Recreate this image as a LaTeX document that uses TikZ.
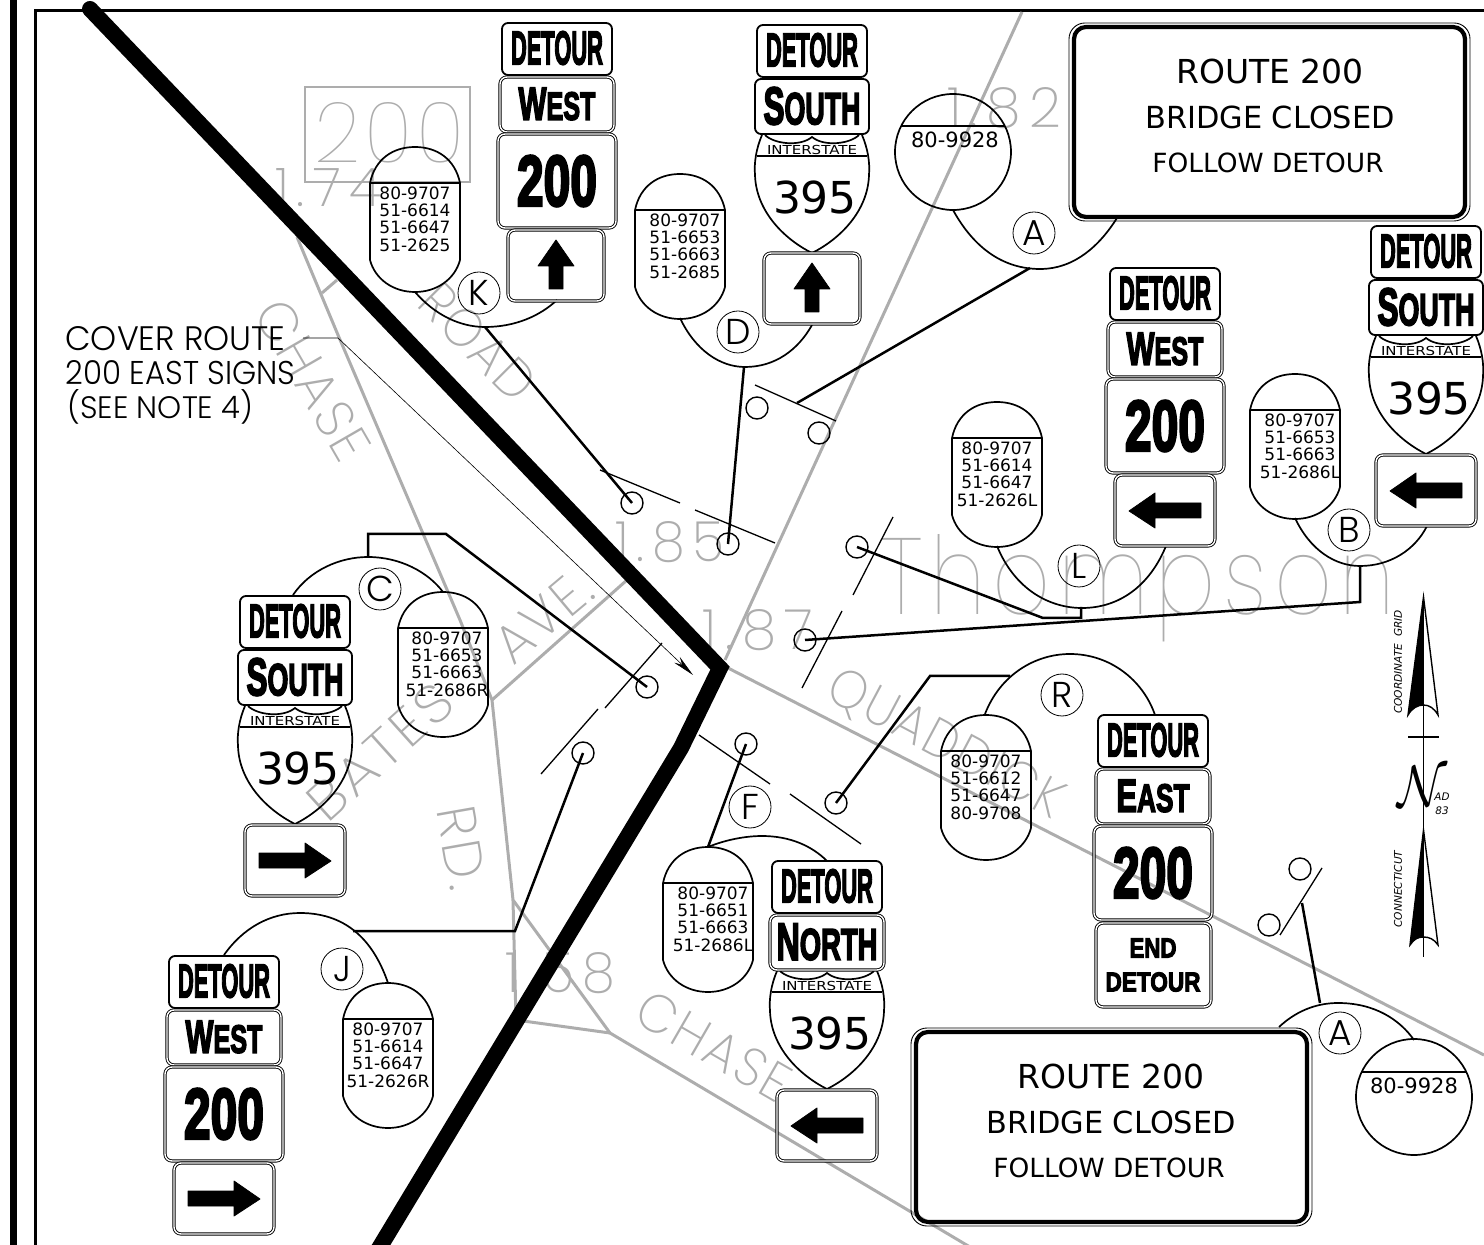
\documentclass[tikz,border=0pt]{standalone}
\usepackage{fontspec}
\usepackage{graphicx}
\usetikzlibrary{arrows.meta}
\setmainfont{DejaVu Sans}
\newfontfamily\signfont[BoldFeatures={FakeBold=4}]{Liberation Sans}
\newfontfamily\gothfont{Poppins Light}
\newfontfamily\cadfont{Poppins ExtraLight}
\newfontfamily\hairfont{Poppins Thin}
\newcommand{\fitbox}[3]{\resizebox{#1}{#2}{#3}}
\definecolor{roadgray}{gray}{0.68}
\tikzset{
  mainline/.style={line width=.85pt,black},
  postline/.style={line width=.65pt,black},
  leader/.style={line width=1.25pt,black},
  roadline/.style={line width=1.5pt,roadgray},
  roadtext/.style={text=roadgray,inner sep=0pt,font=\cadfont},
  pole/.style={circle,draw,line width=.7pt,minimum size=11pt,inner sep=0pt},
  tagc/.style={circle,draw,line width=.4pt,minimum size=21pt,inner sep=0pt,font=\gothfont\fontsize{18}{18}\selectfont},
  numtext/.style={align=center,inner sep=0pt,font=\fontsize{8.5}{8.7}\selectfont},
  plainpanel/.style={draw,line width=.9pt,rounded corners=3pt},
  dblpanel/.style={draw,double,double distance=.7pt,line width=.45pt,rounded corners=3.5pt},
  signtxt/.style={inner sep=0pt,font=\signfont\bfseries},
  signarrow/.style={fill=black,draw=black,line width=.4pt,line join=round},
  bigtext/.style={inner sep=0pt}
}
% bubble with four part numbers
\newcommand{\capsule}[5]{
  \begin{scope}[shift={(#2,#3)}]
    \draw[mainline] (-45,36) .. controls (-40,12) and (-22,0) .. (0,0) .. controls (22,0) and (40,12) .. (45,36)
      -- (45,113) .. controls (40,132) and (22,145) .. (0,145) .. controls (-22,145) and (-40,132) .. (-45,113) -- cycle;
    \draw[mainline] (-45,36) -- (45,36);
    \node[numtext] (#1) at (#4,72) {#5};
  \end{scope}}
% detour plate and direction plate
\newcommand{\signhead}[5]{
  \begin{scope}[shift={(#2,#3)}]
    \draw[plainpanel] (-55,0) rectangle (55,52);
    \node[signtxt] (#1det) at (0,25) {\fitbox{46pt}{16.5pt}{DETOUR}};
    \draw[#4] (-57,54) rectangle (57,109);
    \node[signtxt] (#1dir) at (0,81) {#5};
  \end{scope}}
\newcommand{\routeplate}[2]{
  \begin{scope}[shift={(#1,#2)}]
    \draw[dblpanel] (-59,111) rectangle (59,205);
    \node[signtxt] at (0,158) {\fitbox{40pt}{25pt}{200}};
  \end{scope}}
\newcommand{\shield}[2]{
  \begin{scope}[shift={(#1,#2)}]
    \draw[mainline] (-50,110) .. controls (-56,124) and (-58,138) .. (-57,150) .. controls (-56,186) and (-28,214) .. (0,228)
      .. controls (28,214) and (56,186) .. (57,150) .. controls (58,138) and (56,124) .. (50,110);
    \draw[mainline] (-47,110) .. controls (-38,119) and (-12,122) .. (0,112) .. controls (12,122) and (38,119) .. (47,110);
    \draw[mainline] (-55,131) -- (55,131);
    \node[inner sep=0pt] at (0,125) {\fitbox{45pt}{4.6pt}{INTERSTATE}};
    \node[inner sep=0pt,font=\fontsize{22}{22}\selectfont] at (3,172) {395};
  \end{scope}}
% arrow plates, centre x and top y
\newcommand{\arrowup}[2]{
  \begin{scope}[shift={(#1,#2)}]
    \draw[dblpanel] (-48,0) rectangle (48,71);
    \draw[signarrow] (0,10) -- (18,36) -- (7,36) -- (7,59) -- (-7,59) -- (-7,36) -- (-18,36) -- cycle;
  \end{scope}}
\newcommand{\arrowside}[3]{
  \begin{scope}[shift={(#1,#2)}]
    \draw[dblpanel] (-50,0) rectangle (50,71);
    \draw[signarrow,xscale=#3] (-36,36) -- (-10,18) -- (-10,28) -- (36,28) -- (36,43) -- (-10,43) -- (-10,53) -- cycle;
  \end{scope}}
\newcommand{\roadsign}[2]{
  \draw[line width=.45pt] (#1-5,#2-4) [rounded corners=8pt] rectangle (#1+396,#2+194);
  \draw[line width=2.1pt,rounded corners=6pt] (#1,#2) rectangle (#1+391,#2+190);}
\begin{document}
\begin{tikzpicture}[x=.5pt,y=-.5pt]
  \clip (0,0) rectangle (1484,1245);
  % border
  \fill[black] (10,0) rectangle (17,1245);
  \draw[line width=1.5pt] (35,1245) -- (35,11) -- (1484,11);

  % roads, gray
  \draw[roadline] (297,237) -- (338,335) -- (460,620) -- (492,700) -- (513,900) -- (610,1033) -- (975,1250);
  \draw[roadline] (513,900) -- (516,1020) -- (610,1033);
  \draw[roadline] (322,293) -- (337,280);
  \draw[roadline] (492,700) -- (627,580);
  \draw[roadline] (725,660) -- (1022,12);
  \draw[roadline] (728,668) -- (1484,1055);
  \draw[line width=.9pt,roadgray] (305,87) rectangle (470,182);
  \node[roadtext,font=\hairfont,anchor=base] (rtno) at (389,163) {\fitbox{75pt}{30pt}{2\hspace{.05em}0\hspace{.05em}0}};
  \node[roadtext,anchor=base] (mpa) at (328,207) {\fitbox{53pt}{19pt}{1\hspace{.15em}.\hspace{.15em}7\hspace{.15em}4}};
  \node[roadtext,anchor=base] (mpb) at (1004,128) {\fitbox{57pt}{20pt}{1\hspace{.15em}.\hspace{.15em}8\hspace{.15em}2}};
  \node[roadtext,anchor=base] (mpc) at (670,562) {\fitbox{55pt}{20pt}{1\hspace{.15em}.\hspace{.15em}8\hspace{.15em}5}};
  \node[roadtext,anchor=base] (mpd) at (758,650) {\fitbox{55pt}{20pt}{1\hspace{.15em}.\hspace{.15em}8\hspace{.15em}7}};
  \node[roadtext,anchor=base] (mpe) at (560,992) {\fitbox{55pt}{20pt}{1\hspace{.15em}.\hspace{.15em}5\hspace{.15em}8}};
  \node[roadtext,font=\hairfont,anchor=base] (town) at (1138,615) {\fitbox{257pt}{40pt}{T\hspace{.08em}h\hspace{.08em}o\hspace{.08em}m\hspace{.08em}p\hspace{.08em}s\hspace{.08em}o\hspace{.08em}n}};
  \node[roadtext,rotate=-60] (chasea) at (313,380) {\fitbox{88pt}{19pt}{C\hspace{.05em}H\hspace{.05em}A\hspace{.05em}S\hspace{.05em}E}};
  \node[roadtext,rotate=-45] (roada) at (478,342) {\fitbox{70pt}{19pt}{R\hspace{.05em}O\hspace{.05em}A\hspace{.05em}D}};
  \node[roadtext,rotate=40] (avea) at (543,617) {\fitbox{55pt}{19pt}{A\hspace{.05em}V\hspace{.05em}E\hspace{.05em}.}};
  \node[roadtext,rotate=42] (batesa) at (380,752) {\fitbox{88pt}{19pt}{B\hspace{.05em}A\hspace{.05em}T\hspace{.05em}E\hspace{.05em}S}};
  \node[roadtext,rotate=-80] (rda) at (462,848) {\fitbox{42pt}{19pt}{R\hspace{.05em}D\hspace{.05em}.}};
  \node[roadtext,rotate=-28] (quad) at (945,745) {\fitbox{130pt}{19pt}{Q\hspace{.05em}U\hspace{.05em}A\hspace{.05em}D\hspace{.05em}D\hspace{.05em}I\hspace{.05em}C\hspace{.05em}K}};
  \node[roadtext,rotate=-30] (chaseb) at (714,1046) {\fitbox{84pt}{19pt}{C\hspace{.05em}H\hspace{.05em}A\hspace{.05em}S\hspace{.05em}E}};

  % closed road
  \draw[line width=8pt,line cap=round,line join=miter] (90,9) -- (720,668) -- (681,748) -- (375,1255);

  % posts
  \draw[postline] (600,470) -- (680,503);
  \draw[postline] (695,510) -- (775,543);
  \draw[postline] (755,385) -- (836,421);
  \draw[postline] (893,517) -- (853,595);
  \draw[postline] (842,611) -- (802,688);
  \draw[postline] (662,643) -- (605,708);
  \draw[postline] (598,709) -- (541,774);
  \draw[postline] (699,735) -- (770,784);
  \draw[postline] (790,794) -- (861,844);
  \draw[postline] (1322,868) -- (1280,935);
  \node[pole] (polek) at (632,503) {};
  \node[pole] (poled) at (728,544) {};
  \node[pole] (poleaa) at (757,408) {};
  \node[pole] (poleab) at (819,433) {};
  \node[pole] (polel) at (857,547) {};
  \node[pole] (poleb) at (805,640) {};
  \node[pole] (polec) at (647,687) {};
  \node[pole] (polej) at (583,753) {};
  \node[pole] (polef) at (746,744) {};
  \node[pole] (poler) at (836,803) {};
  \node[pole] (polec1) at (1300,869) {};
  \node[pole] (polec2) at (1269,925) {};

  % tags
  \node[tagc] (taga) at (1034,233) {A};
  \node[tagc] (tagk) at (479,293) {K};
  \node[tagc] (tagd) at (738,332) {D};
  \node[tagc] (tagl) at (1079,566) {L};
  \node[tagc] (tagb) at (1349,530) {B};
  \node[tagc] (tagcc) at (380,589) {C};
  \node[tagc] (tagr) at (1062,695) {R};
  \node[tagc] (tagf) at (750,807) {F};
  \node[tagc] (tagj) at (342,969) {J};
  \node[tagc] (tagaa) at (1340,1033) {A};

  % arcs from bubble to sign
  \draw[mainline] (953,210) .. controls (975,250) and (1005,269) .. (1040,269) .. controls (1075,269) and (1100,245) .. (1117,218);
  \draw[mainline] (415,292) .. controls (435,315) and (460,327) .. (485,327) .. controls (515,327) and (540,316) .. (557,300);
  \draw[mainline] (680,318) .. controls (695,350) and (720,367) .. (745,367) .. controls (775,367) and (798,350) .. (812,325);
  \draw[mainline] (997,546) .. controls (1015,590) and (1050,608) .. (1082,608) .. controls (1120,608) and (1150,585) .. (1166,546);
  \draw[mainline] (1295,518) .. controls (1310,550) and (1335,566) .. (1360,566) .. controls (1390,566) and (1415,550) .. (1427,526);
  \draw[mainline] (293,595) .. controls (310,570) and (340,557) .. (368,557) .. controls (400,557) and (428,572) .. (443,592);
  \draw[mainline] (985,714) .. controls (1000,675) and (1035,654) .. (1070,654) .. controls (1110,654) and (1143,680) .. (1155,715);
  \draw[mainline] (708,847) .. controls (725,840) and (745,836) .. (762,836) .. controls (790,836) and (812,846) .. (827,861);
  \draw[mainline] (224,955) .. controls (243,928) and (270,913) .. (300,913) .. controls (350,913) and (375,945) .. (388,983);
  \draw[mainline] (1279,1027) .. controls (1295,1012) and (1315,1003) .. (1338,1003) .. controls (1375,1003) and (1400,1020) .. (1414,1040);

  % leaders
  \coordinate (ka) at (485,327);
  \coordinate (da) at (744,367);
  \coordinate (aa) at (1030,268);
  \coordinate (ab) at (797,403);
  \coordinate (la) at (1081,607);
  \coordinate (ba) at (1360,566);
  \coordinate (ca) at (368,557);
  \coordinate (ra) at (1010,676);
  \coordinate (fa) at (708,847);
  \coordinate (ja) at (353,931);
  \coordinate (ac) at (1320,1003);
  \coordinate (ad) at (1302,903);
  \draw[leader] (ka) -- (polek.center);
  \draw[leader] (da) -- (poled.center);
  \draw[leader] (aa) -- (ab);
  \draw[leader] (la) -- (1081,618) -- (1043,618) -- (polel.center);
  \draw[leader] (ba) -- (1360,602) -- (poleb.center);
  \draw[leader] (ca) -- (368,534) -- (446,534) -- (polec.center);
  \draw[leader] (ra) -- (930,676) -- (poler.center);
  \draw[leader] (fa) -- (polef.center);
  \draw[leader] (ja) -- (515,931) -- (polej.center);
  \draw[leader] (ac) -- (ad);

  % part number bubbles
  \capsule{capk}{415}{147}{0}{80-9707\\51-6614\\51-6647\\51-2625}
  \capsule{capd}{680}{174}{5}{80-9707\\51-6653\\51-6663\\51-2685}
  \capsule{capl}{997}{402}{0}{80-9707\\51-6614\\51-6647\\51-2626L}
  \capsule{capb}{1295}{374}{5}{80-9707\\51-6653\\51-6663\hspace*{5pt}\\51-2686L}
  \capsule{capc}{443}{592}{4}{80-9707\\51-6653\\51-6663\hspace*{5pt}\\51-2686R}
  \capsule{capr}{986}{715}{0}{80-9707\\51-6612\\51-6647\\80-9708}
  \capsule{capf}{708}{847}{5}{80-9707\\51-6651\\51-6663\hspace*{5pt}\\51-2686L}
  \capsule{capj}{388}{983}{0}{80-9707\\51-6614\\51-6647\\51-2626R}
  \draw[mainline] (953,152) circle[radius=58];
  \draw[mainline] (901,126) -- (1005,126);
  \node[numtext,font=\fontsize{10.5}{10.5}\selectfont] (numa) at (955,140) {80-9928};
  \draw[mainline] (1414,1097) circle[radius=58];
  \draw[mainline] (1362,1072) -- (1466,1072);
  \node[numtext,font=\fontsize{10.5}{10.5}\selectfont] (numaa) at (1414,1086) {80-9928};

  % signs
  \signhead{k}{557}{23}{dblpanel}{\fitbox{38.5pt}{16pt}{W\scalebox{.85}{EST}}}
  \routeplate{557}{23}
  \arrowup{556}{230}
  \signhead{l}{1165}{268}{dblpanel}{\fitbox{38.5pt}{16pt}{W\scalebox{.85}{EST}}}
  \routeplate{1165}{268}
  \arrowside{1165}{475}{1}
  \signhead{j}{224}{956}{dblpanel}{\fitbox{38.5pt}{16pt}{W\scalebox{.85}{EST}}}
  \routeplate{224}{956}
  \arrowside{224}{1163}{-1}
  \signhead{r}{1153}{715}{dblpanel}{\fitbox{36.5pt}{16pt}{E\scalebox{.85}{AST}}}
  \routeplate{1153}{715}
  \draw[dblpanel] (1096,923) rectangle (1211,1007);
  \node[signtxt] (rend) at (1153,948) {\fitbox{23.5pt}{9.5pt}{END}};
  \node[signtxt] (rdet) at (1153,982) {\fitbox{47.5pt}{9.5pt}{DETOUR}};
  \shield{812}{25}
  \signhead{d}{812}{25}{plainpanel}{\fitbox{48.5pt}{18.5pt}{S\scalebox{.85}{OUTH}}}
  \arrowup{812}{253}
  \shield{1426}{226}
  \signhead{b}{1426}{226}{plainpanel}{\fitbox{48.5pt}{18.5pt}{S\scalebox{.85}{OUTH}}}
  \arrowside{1426}{455}{1}
  \shield{295}{596}
  \signhead{c}{295}{596}{plainpanel}{\fitbox{48.5pt}{18.5pt}{S\scalebox{.85}{OUTH}}}
  \arrowside{295}{825}{-1}
  \shield{827}{861}
  \signhead{f}{827}{861}{dblpanel}{\fitbox{50.5pt}{18pt}{N\scalebox{.85}{ORTH}}}
  \arrowside{827}{1090}{1}

  % closure signs
  \roadsign{1074}{27}
  \node[bigtext,font=\fontsize{16.5}{16.5}\selectfont] (sa1) at (1270,71) {ROUTE 200};
  \node[bigtext,font=\fontsize{15.2}{15.2}\selectfont] (sa2) at (1270,117) {BRIDGE CLOSED};
  \node[bigtext,font=\fontsize{13.2}{13.2}\selectfont] (sa3) at (1268,163) {FOLLOW DETOUR};
  \roadsign{916}{1032}
  \node[bigtext,font=\fontsize{16.5}{16.5}\selectfont] (sb1) at (1111,1076) {ROUTE 200};
  \node[bigtext,font=\fontsize{15.2}{15.2}\selectfont] (sb2) at (1111,1122) {BRIDGE CLOSED};
  \node[bigtext,font=\fontsize{13.2}{13.2}\selectfont] (sb3) at (1109,1168) {FOLLOW DETOUR};

  % note
  \node[anchor=base west,inner sep=0pt,font=\gothfont] (notea) at (65,351) {\fitbox{110pt}{12pt}{COVER ROUTE}};
  \node[anchor=base west,inner sep=0pt,font=\gothfont] (noteb) at (65,385) {\fitbox{115pt}{12pt}{200 EAST SIGNS}};
  \node[anchor=base west,inner sep=0pt,font=\gothfont] (notec) at (67,419) {\fitbox{93pt}{14.5pt}{(SEE NOTE 4)}};
  \draw[line width=.3pt,-{Stealth[length=11pt,width=4pt]}] (303,338) -- (338,338) -- (693,675);

  % north arrow
  \draw[line width=.8pt] (1423.5,597) -- (1423.5,957);
  \fill[black] (1423.5,597) -- (1408,715) .. controls (1412,708) and (1418,705) .. (1423.5,705) -- cycle;
  \draw[line width=.7pt] (1423.5,597) -- (1438,715) .. controls (1434,708) and (1429,705) .. (1423.5,705) .. controls (1418,705) and (1412,708) .. (1408,715) -- cycle;
  \draw[line width=.8pt] (1408,737) -- (1439,737);
  \node[inner sep=0pt] (nsym) at (1422,786) {\fitbox{25pt}{20pt}{$\mathcal{N}$}};
  \node[inner sep=0pt,font=\fontsize{5.2}{5.2}\selectfont\itshape] (nad) at (1442,797) {AD};
  \node[inner sep=0pt,font=\fontsize{5.2}{5.2}\selectfont\itshape] (nyr) at (1442,811) {83};
  \node[inner sep=0pt,rotate=90,font=\fontsize{5.3}{5.3}\selectfont\itshape] (ngrid) at (1398,662) {COORDINATE\ \ GRID};
  \fill[black] (1423.5,830) -- (1410,945) .. controls (1414,939) and (1418,937) .. (1423.5,937) -- cycle;
  \draw[line width=.7pt] (1423.5,830) -- (1438,945) .. controls (1434,939) and (1429,937) .. (1423.5,937) .. controls (1418,937) and (1414,939) .. (1410,945) -- cycle;
  \node[inner sep=0pt,rotate=90,font=\fontsize{5.3}{5.3}\selectfont\itshape] (nct) at (1398,889) {CONNECTICUT};
\end{tikzpicture}
\end{document}
